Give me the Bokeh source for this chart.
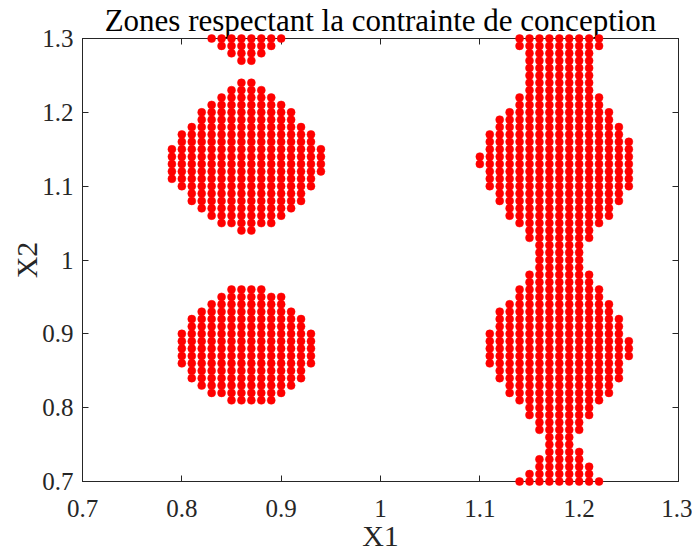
from bokeh.plotting import figure
from bokeh.models import LinearAxis, FixedTicker, Range1d, ColumnDataSource
from bokeh.embed import file_html
from bokeh.resources import INLINE

# Accepted grid points (values in hundredths):
# row X2 value, first X1 value, last X1 value of a contiguous run of points
left_y = [130, 129, 128, 127,
          124, 123, 122, 121, 120, 119, 118, 117, 116, 115, 114, 113, 112, 111, 110, 109, 108, 107, 106, 105, 104,
          96, 95, 94, 93, 92, 91, 90, 89, 88, 87, 86, 85, 84, 83, 82, 81]
left_x_from = [83, 84, 85, 86,
               86, 85, 84, 83, 82, 82, 81, 80, 80, 79, 79, 79, 79, 79, 80, 81, 81, 82, 83, 84, 86,
               85, 84, 83, 82, 81, 81, 80, 80, 80, 80, 80, 81, 81, 82, 83, 85]
left_x_to = [90, 89, 88, 87,
             87, 88, 89, 90, 91, 91, 92, 93, 93, 94, 94, 94, 94, 93, 93, 92, 92, 91, 90, 89, 87,
             88, 90, 90, 91, 92, 92, 93, 93, 93, 93, 93, 92, 92, 91, 90, 89]

right_y = [130, 129, 128, 127, 126, 125, 124, 123, 122, 121, 120, 119, 118, 117, 116, 115, 114, 113, 112, 111,
           110, 109, 108, 107, 106, 105, 104, 103, 102, 101, 100, 99, 98, 97, 96, 95, 94, 93, 92, 91,
           90, 89, 88, 87, 86, 85, 84, 83, 82, 81, 80, 79, 78, 77, 76, 75, 74, 73, 72, 71, 70]
right_x_from = [114, 114, 115, 115, 115, 115, 115, 115, 114, 114, 113, 112, 112, 111, 111, 111, 110, 110, 111, 111,
                111, 112, 112, 113, 113, 114, 115, 115, 116, 116, 116, 116, 115, 115, 114, 114, 113, 112, 112, 112,
                111, 111, 111, 111, 111, 112, 112, 113, 113, 114, 115, 115, 116, 116, 117, 117, 117, 116, 116, 115, 114]
right_x_to = [122, 122, 121, 121, 121, 121, 121, 121, 122, 122, 123, 123, 124, 124, 125, 125, 125, 125, 125, 125,
              125, 124, 124, 123, 123, 122, 121, 121, 120, 120, 120, 120, 121, 121, 122, 122, 123, 123, 124, 124,
              124, 125, 125, 125, 124, 124, 124, 123, 123, 122, 121, 121, 120, 120, 119, 119, 120, 120, 121, 121, 122]

tick_values = [0.7, 0.8, 0.9, 1.0, 1.1, 1.2, 1.3]
tick_labels = ["0.7", "0.8", "0.9", "1", "1.1", "1.2", "1.3"]

title_text = "Zones respectant la contrainte de conception"
x_label = "X1"
y_label = "X2"

xs, ys = [], []
for rows, x0s, x1s in ((left_y, left_x_from, left_x_to), (right_y, right_x_from, right_x_to)):
    for yv, a, b in zip(rows, x0s, x1s):
        for i in range(a, b + 1):
            xs.append(i / 100)
            ys.append(yv / 100)

src = ColumnDataSource(dict(x=xs, y=ys))

FONT = "Liberation Serif"
AX = "#262626"

p = figure(width=692, height=554, output_backend="svg", toolbar_location=None,
           x_range=Range1d(0.7, 1.3), y_range=Range1d(0.7, 1.3),
           min_border_left=82, min_border_right=14, min_border_top=38, min_border_bottom=73,
           title=title_text)
p.title.text_font = FONT
p.title.text_font_size = "31px"
p.title.text_font_style = "normal"
p.title.text_color = "black"
p.title.align = "center"
p.title.standoff = 1

p.grid.visible = False
p.outline_line_color = AX
p.outline_line_width = 1

ov = {v: l for v, l in zip(tick_values, tick_labels)}
for ax in (p.xaxis[0], p.yaxis[0]):
    ax.ticker = FixedTicker(ticks=tick_values)
    ax.major_label_overrides = ov
    ax.major_tick_in = 6
    ax.major_tick_out = 0
    ax.minor_tick_line_color = None
    ax.axis_line_color = AX
    ax.major_tick_line_color = AX
    ax.major_label_text_font = FONT
    ax.major_label_text_font_size = "25px"
    ax.major_label_text_color = AX
    ax.axis_label_text_font = FONT
    ax.axis_label_text_font_size = "30px"
    ax.axis_label_text_font_style = "normal"
    ax.axis_label_text_color = AX
p.xaxis[0].axis_label = x_label
p.yaxis[0].axis_label = y_label
p.xaxis[0].major_label_standoff = 18
p.xaxis[0].axis_label_standoff = -1
p.yaxis[0].major_label_standoff = 9
p.yaxis[0].axis_label_standoff = -4

for side in ("above", "right"):
    a = LinearAxis(ticker=FixedTicker(ticks=tick_values), major_tick_in=6, major_tick_out=0,
                   minor_tick_line_color=None, axis_line_color=AX, major_tick_line_color=AX,
                   major_label_text_font_size="0px", major_label_standoff=0)
    p.add_layout(a, side)

p.scatter("x", "y", source=src, size=8, fill_color="#ff0000", line_color="#ff0000",
          line_width=0.5, level="overlay")

open("out.html", "w").write(file_html(p, INLINE))
